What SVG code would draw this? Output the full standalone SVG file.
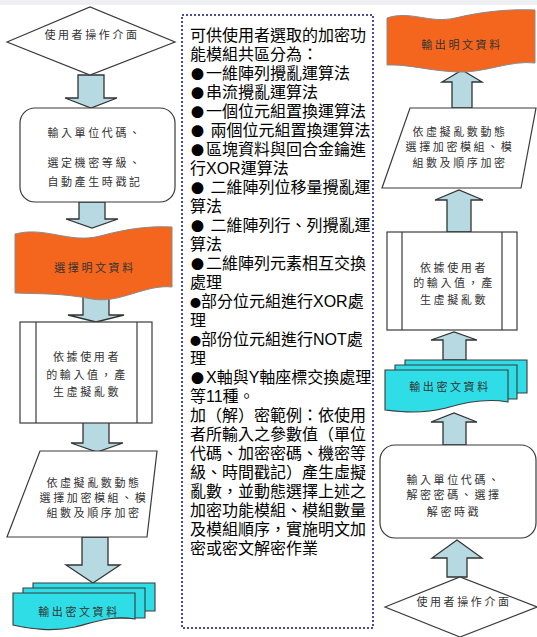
<svg xmlns="http://www.w3.org/2000/svg" width="537" height="637" viewBox="0 0 537 637">
<style>
.shape{stroke:#3a3a3a;stroke-width:1.2;fill:#fff}
.org{fill:#f4661e;stroke:#8a8a8a;stroke-width:1}
.cyan{fill:#2fdde6;stroke:#3a3a3a;stroke-width:1.1}
.arr{fill:#b6d9e2;stroke:#333;stroke-width:1.3;stroke-linejoin:miter}
.lb{font-family:"Noto Sans CJK TC",sans-serif;font-size:11px;letter-spacing:2.6px;fill:#333;text-anchor:middle}
.mt{font-family:"Liberation Sans","Noto Sans CJK TC",sans-serif;font-size:16px;fill:#000}
.bl{font-family:"Noto Sans CJK TC",sans-serif;font-size:13px}
.bs{font-family:"Noto Sans CJK TC",sans-serif;font-size:11px}
</style>
<rect x="0" y="0" width="537" height="637" fill="#fff"/>
<rect x="0" y="0" width="537" height="5" fill="#eef0f4"/>

<g id="connectors">
  <path class="arr" d="M78,75 V98 H65 L91,108 L117,98 H104 V75 Z"/>
  <path class="arr" d="M79,202 V219 H66 L92,228 L118,219 H105 V202 Z"/>
  <path class="arr" d="M83,296 V315 H68 L96,322 L124,315 H109 V296 Z"/>
  <path class="arr" d="M83,422 V443 H71 L97,452 L123,443 H109 V422 Z"/>
  <path class="arr" d="M82,537 V565 H66 L93,583 L120,565 H108 V537 Z"/>
  <path class="arr" d="M452,108 V82 H442 L462,70 L482,82 H472 V108 Z"/>
  <path class="arr" d="M447,232 V200 H435 L459,190 L483,200 H471 V232 Z"/>
  <path class="arr" d="M443,360 V340 H431 L454,332 L477,340 H466 V360 Z"/>
  <path class="arr" d="M443,445 V422 H431 L454,413 L477,422 H466 V445 Z"/>
  <path class="arr" d="M447,577 V558 H432 L457,540 L482,558 H467 V577 Z"/>
</g>

<g id="L1">
  <polygon class="shape" points="7,42 90,7 175,42 90,75"/>
  <text class="lb" x="92" y="39">使用者操作介面</text>
</g>
<g id="L2">
  <rect class="shape" x="20" y="108" width="155" height="94" rx="15"/>
  <text class="lb" x="95" y="137">輸入單位代碼、</text>
  <text class="lb" x="95" y="167">選定機密等級、</text>
  <text class="lb" x="95" y="186">自動產生時戳記</text>
</g>
<g id="L3">
  <path class="org" d="M15,234 C45,226 70,244 100,236 C130,228 150,226 172,227 L172,287 C145,284 120,304 92,299 C62,293 40,294 15,293 Z"/>
  <text class="lb" x="95" y="272">選擇明文資料</text>
</g>
<g id="L4">
  <rect class="shape" x="20" y="322" width="132" height="101"/>
  <line class="shape" x1="36" y1="322" x2="36" y2="423"/>
  <line class="shape" x1="137" y1="322" x2="137" y2="423"/>
  <text class="lb" x="87" y="361">依據使用者</text>
  <text class="lb" x="87" y="379">的輸入值，產</text>
  <text class="lb" x="87" y="396">生虛擬亂數</text>
</g>
<g id="L5">
  <polygon class="shape" points="40,451 157,451 147,537 7,537"/>
  <text class="lb" x="94" y="487">依虛擬亂數動態</text>
  <text class="lb" x="94" y="502">選擇加密模組、模</text>
  <text class="lb" x="94" y="517">組數及順序加密</text>
</g>
<g id="L6">
  <path class="cyan" d="M33,583 H155 V611 H33 Z"/>
  <path class="cyan" d="M23,588 H145 V618 H23 Z"/>
  <path class="cyan" d="M13,593 H135 V619 C112,615 95,622 75,627 C52,632 32,629 13,625 Z"/>
  <text class="lb" x="79" y="616">輸出密文資料</text>
</g>

<g id="M1">
  <rect x="182" y="15" width="191" height="613" fill="none" stroke="#4a4aa0" stroke-width="2" stroke-dasharray="2 2"/>
  <text class="mt" x="190" y="41">可供使用者選取的加密功</text>
  <text class="mt" x="190" y="60">能模組共區分為：</text>
  <text class="mt" x="190" y="79"><tspan class="bl" dx="1">●</tspan><tspan dx="2">一維陣列攪亂運算法</tspan></text>
  <text class="mt" x="190" y="98"><tspan class="bl" dx="1">●</tspan><tspan dx="2">串流攪亂運算法</tspan></text>
  <text class="mt" x="190" y="117"><tspan class="bl" dx="1">●</tspan><tspan dx="2">一個位元組置換運算法</tspan></text>
  <text class="mt" x="190" y="136"><tspan class="bl" dx="1">●</tspan><tspan dx="2"> 兩個位元組置換運算法</tspan></text>
  <text class="mt" x="190" y="155"><tspan class="bl" dx="1">●</tspan><tspan dx="2">區塊資料與回合金鑰進</tspan></text>
  <text class="mt" x="190" y="174">行XOR運算法</text>
  <text class="mt" x="190" y="193"><tspan class="bl" dx="1">●</tspan><tspan dx="2"> 二維陣列位移量攪亂運</tspan></text>
  <text class="mt" x="190" y="212">算法</text>
  <text class="mt" x="190" y="231"><tspan class="bl" dx="1">●</tspan><tspan dx="2"> 二維陣列行、列攪亂運</tspan></text>
  <text class="mt" x="190" y="250">算法</text>
  <text class="mt" x="190" y="269"><tspan class="bl" dx="1">●</tspan><tspan dx="2">二維陣列元素相互交換</tspan></text>
  <text class="mt" x="190" y="288">處理</text>
  <text class="mt" x="190" y="307"><tspan class="bs">●</tspan>部分位元組進行XOR處</text>
  <text class="mt" x="190" y="326">理</text>
  <text class="mt" x="190" y="345"><tspan class="bs">●</tspan>部份位元組進行NOT處</text>
  <text class="mt" x="190" y="364">理</text>
  <text class="mt" x="190" y="383"><tspan class="bl" dx="1">●</tspan><tspan dx="2">X軸與Y軸座標交換處理</tspan></text>
  <text class="mt" x="190" y="402">等11種。</text>
  <text class="mt" x="190" y="421">加（解）密範例：依使用</text>
  <text class="mt" x="190" y="440">者所輸入之參數值（單位</text>
  <text class="mt" x="190" y="459">代碼、加密密碼、機密等</text>
  <text class="mt" x="190" y="478">級、時間戳記）產生虛擬</text>
  <text class="mt" x="190" y="497">亂數，並動態選擇上述之</text>
  <text class="mt" x="190" y="516">加密功能模組、模組數量</text>
  <text class="mt" x="190" y="535">及模組順序，實施明文加</text>
  <text class="mt" x="190" y="554">密或密文解密作業</text>
</g>

<g id="R1">
  <path class="org" d="M387,18 C410,10 430,24 455,18 C485,11 510,9 535,10 L535,63 C510,60 485,73 458,72 C430,71 408,64 387,65 Z"/>
  <text class="lb" x="462" y="49">輸出明文資料</text>
</g>
<g id="R2">
  <polygon class="shape" points="410,108 536,108 521,188 382,188"/>
  <text class="lb" x="460" y="136">依虛擬亂數動態</text>
  <text class="lb" x="460" y="151">選擇加密模組、模</text>
  <text class="lb" x="460" y="167">組數及順序加密</text>
</g>
<g id="R3">
  <rect class="shape" x="387" y="232" width="130" height="98"/>
  <line class="shape" x1="402" y1="232" x2="402" y2="330"/>
  <line class="shape" x1="502" y1="232" x2="502" y2="330"/>
  <text class="lb" x="454" y="272">依據使用者</text>
  <text class="lb" x="454" y="287">的輸入值，產</text>
  <text class="lb" x="454" y="304">生虛擬亂數</text>
</g>
<g id="R4">
  <path class="cyan" d="M405,360 H527 V393 H405 Z"/>
  <path class="cyan" d="M395,365 H517 V399 H395 Z"/>
  <path class="cyan" d="M385,370 H508 V402 C486,398 466,402 446,408 C422,414 402,412 385,410 Z"/>
  <text class="lb" x="450" y="391">輸出密文資料</text>
</g>
<g id="R5">
  <rect class="shape" x="380" y="445" width="156" height="93" rx="15"/>
  <text class="lb" x="454" y="484">輸入單位代碼、</text>
  <text class="lb" x="454" y="499">解密密碼、選擇</text>
  <text class="lb" x="454" y="516">解密時戳</text>
</g>
<g id="R6">
  <polygon class="shape" points="385,607 460,577 537,607 460,637"/>
  <text class="lb" x="464" y="606">使用者操作介面</text>
</g>
</svg>
